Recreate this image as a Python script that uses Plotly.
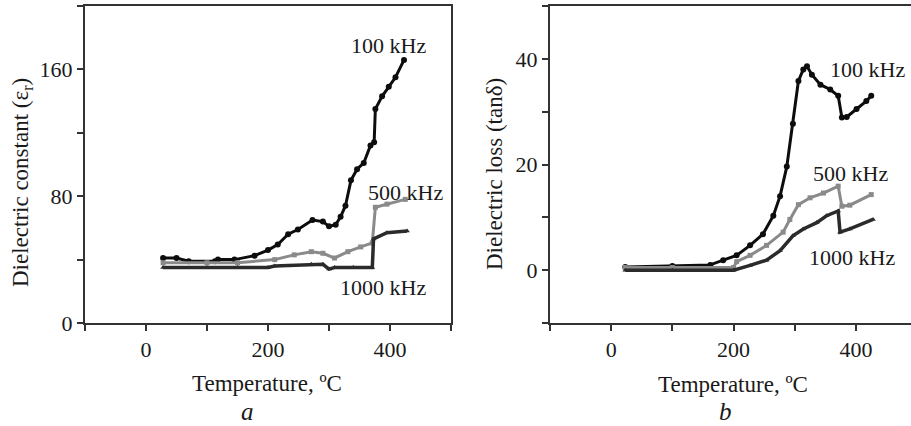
import plotly.graph_objects as go

# ---- Panel a: dielectric constant ----
a_T100 = [28, 50, 70, 113, 118, 145, 178, 200, 216, 233, 249, 273, 290, 300, 311, 319, 327, 336, 346, 357, 368, 374, 376, 387, 398, 409, 423]
a_E100 = [41, 41, 39, 39, 40, 40, 42.5, 46, 49.5, 56, 59, 65, 64, 61, 62, 67, 74, 90, 97, 101, 112, 114, 135, 143, 149, 155, 166]
a_T500 = [28, 100, 150, 211, 243, 271, 290, 309, 331, 352, 371, 376, 395, 425]
a_E500 = [38, 38, 38, 40, 43, 45, 44, 41, 45, 48, 50.5, 73, 75, 78]
a_T1000 = [28, 100, 150, 200, 211, 271, 290, 300, 309, 340, 371, 373, 395, 428]
a_E1000 = [35, 35, 35, 35, 36, 37, 37, 34, 35, 35, 35, 53, 57, 58]

# ---- Panel b: dielectric loss ----
b_T100 = [23, 100, 162, 183, 205, 227, 248, 265, 276, 287, 297, 306, 314, 320, 328, 342, 358, 371, 377, 385, 401, 417, 425]
b_L100 = [0.6, 0.8, 1, 1.9, 2.8, 4.7, 6.8, 10.3, 14, 19.6, 27.7, 35.8, 38, 38.6, 37, 35.1, 34.2, 33, 28.9, 29, 30.5, 32, 33]
b_T500 = [23, 100, 200, 205, 227, 254, 281, 292, 306, 325, 347, 371, 377, 390, 425]
b_L500 = [0.5, 0.5, 0.5, 1.6, 2.8, 4.7, 7.2, 9.6, 12.4, 13.7, 14.6, 15.9, 12.1, 12.3, 14.3]
b_T1000 = [23, 100, 200, 227, 254, 276, 297, 314, 336, 352, 371, 374, 390, 428]
b_L1000 = [0, 0, 0, 0.9, 1.9, 3.7, 6.5, 7.8, 9, 10.3, 11.2, 7.2, 7.8, 9.6]

series_names = ["100 kHz", "500 kHz", "1000 kHz"]
colors = ["#0d0d0d", "#8a8a8a", "#2b2b2b"]
symbols = ["circle", "square", "triangle-up"]

x_ticks = [-100, 0, 100, 200, 300, 400, 500]
x_ticktext = ["", "0", "", "200", "", "400", ""]
ya_ticks = [0, 40, 80, 120, 160, 200]
ya_ticktext = ["0", "", "80", "", "160", ""]
yb_ticks = [-10, 0, 10, 20, 30, 40, 50]
yb_ticktext = ["", "0", "", "20", "", "40", ""]

W, H = 911, 426
L_TOP, L_BOT = 6, 323  # plot area in px


def px(x):
    return x / W


def py(y):
    return (L_BOT - y) / (L_BOT - L_TOP)


fig = go.Figure()

a_data = [(a_T100, a_E100), (a_T500, a_E500), (a_T1000, a_E1000)]
b_data = [(b_T100, b_L100), (b_T500, b_L500), (b_T1000, b_L1000)]
widths = [3, 3, 3.5]
msizes = [6, 5, 5]

for i, (xs, ys) in enumerate(a_data):
    fig.add_trace(go.Scatter(x=xs, y=ys, mode="lines+markers", name=series_names[i],
                             line=dict(color=colors[i], width=widths[i]),
                             marker=dict(color=colors[i], size=msizes[i], symbol=symbols[i]),
                             xaxis="x", yaxis="y", showlegend=False))
for i, (xs, ys) in enumerate(b_data):
    fig.add_trace(go.Scatter(x=xs, y=ys, mode="lines+markers", name=series_names[i],
                             line=dict(color=colors[i], width=widths[i]),
                             marker=dict(color=colors[i], size=msizes[i], symbol=symbols[i]),
                             xaxis="x2", yaxis="y2", showlegend=False))

tickfont = dict(family="Liberation Serif", size=22, color="#1a1a1a")
axis_common = dict(showline=True, linecolor="#333", linewidth=2, ticks="outside",
                   ticklen=6, tickwidth=2, tickcolor="#333", showgrid=False,
                   zeroline=False, tickfont=tickfont)

fig.update_layout(
    width=W, height=H,
    margin=dict(l=0, r=0, t=L_TOP, b=H - L_BOT),
    paper_bgcolor="white", plot_bgcolor="white",
    xaxis=dict(domain=[85 / W, 451 / W], range=[-100, 500], tickvals=x_ticks,
               ticktext=x_ticktext, mirror=True, anchor="y", **axis_common),
    yaxis=dict(domain=[0, 1], range=[0, 200], tickvals=ya_ticks, ticktext=ya_ticktext,
               mirror=True, anchor="x", **axis_common),
    xaxis2=dict(domain=[550 / W, 1], range=[-100, 490], tickvals=x_ticks,
                ticktext=x_ticktext, mirror=True, anchor="y2", **axis_common),
    yaxis2=dict(domain=[0, 1], range=[-10, 50], tickvals=yb_ticks, ticktext=yb_ticktext,
                mirror=False, anchor="x2", **axis_common),
)

title_font = dict(family="Liberation Serif", size=23, color="#1a1a1a")
label_font = dict(family="Liberation Serif", size=22, color="#1a1a1a")
letter_font = dict(family="Liberation Serif", size=25, color="#1a1a1a")
anns = [
    (dict(x=px(22), y=py(183), text="Dielectric constant (ε<sub>r</sub>)", textangle=-90), title_font),
    (dict(x=px(494), y=py(174), text="Dielectric loss (tanδ)", textangle=-90), title_font),
    (dict(x=px(267), y=py(383), text="Temperature, ºC"), title_font),
    (dict(x=px(733), y=py(384), text="Temperature, ºC"), title_font),
    (dict(x=px(247), y=py(411), text="<i>a</i>"), letter_font),
    (dict(x=px(725), y=py(411), text="<i>b</i>"), letter_font),
    (dict(x=px(388), y=py(45), text="100 kHz"), label_font),
    (dict(x=px(405), y=py(192), text="500 kHz"), label_font),
    (dict(x=px(383), y=py(287), text="1000 kHz"), label_font),
    (dict(x=px(867), y=py(70), text="100 kHz"), label_font),
    (dict(x=px(850), y=py(173), text="500 kHz"), label_font),
    (dict(x=px(852), y=py(257), text="1000 kHz"), label_font),
]
for a, f in anns:
    fig.add_annotation(xref="paper", yref="paper", showarrow=False, font=f,
                       xanchor="center", yanchor="middle", **a)

fig.write_html("out.html", config={"displayModeBar": False},
               post_script="document.body.style.margin='0';")
